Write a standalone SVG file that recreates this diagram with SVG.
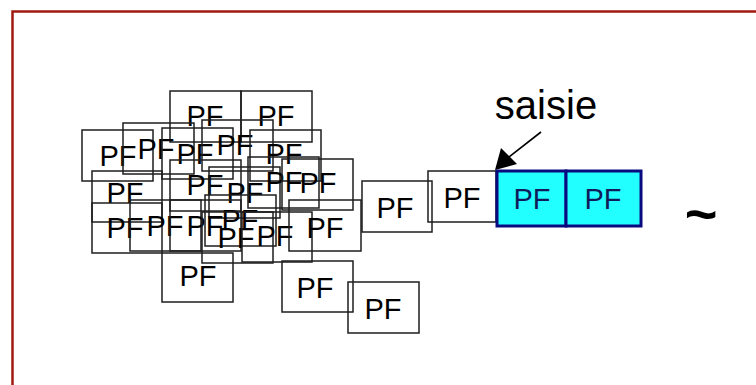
<svg xmlns="http://www.w3.org/2000/svg" width="756" height="385" viewBox="0 0 756 385">
<style>
.b{fill:none;stroke:#1e1e1e;stroke-width:1.5}
.t{font-family:"Liberation Sans",Arial,sans-serif;font-size:29px;fill:#000;text-anchor:middle}
.c{fill:#22ffff;stroke:#0a0a80;stroke-width:3}
.ct{font-family:"Liberation Sans",Arial,sans-serif;font-size:29px;fill:#101c5a;text-anchor:middle}
</style>
<rect width="756" height="385" fill="#fff"/>
<rect x="12.5" y="11.5" width="760" height="400" fill="none" stroke="#a01a10" stroke-width="2.5"/>
<g id="n1"><rect class="b" x="170" y="91" width="71" height="51"/><text class="t" x="205" y="126">PF</text></g>
<g id="n2"><rect class="b" x="241" y="91" width="71" height="51"/><text class="t" x="276" y="126">PF</text></g>
<g id="n3"><rect class="b" x="82" y="130" width="71" height="51"/><text class="t" x="118" y="166">PF</text></g>
<g id="n4"><rect class="b" x="123" y="123" width="71" height="51"/><text class="t" x="156" y="159">PF</text></g>
<g id="n5"><rect class="b" x="162" y="128" width="71" height="51"/><text class="t" x="195" y="164">PF</text></g>
<g id="n6"><rect class="b" x="202" y="120" width="71" height="51"/><text class="t" x="235" y="155">PF</text></g>
<g id="n7"><rect class="b" x="250" y="130" width="71" height="51"/><text class="t" x="284" y="164">PF</text></g>
<g id="n8"><rect class="b" x="92" y="171" width="70" height="51"/><text class="t" x="125" y="203">PF</text></g>
<g id="n9"><rect class="b" x="170" y="160" width="71" height="51"/><text class="t" x="205" y="195">PF</text></g>
<g id="n10"><rect class="b" x="209" y="167" width="71" height="51"/><text class="t" x="245" y="203">PF</text></g>
<g id="n11"><rect class="b" x="248" y="157" width="71" height="51"/><text class="t" x="284" y="192">PF</text></g>
<g id="n12"><rect class="b" x="282" y="159" width="71" height="51"/><text class="t" x="318" y="193">PF</text></g>
<g id="n13"><rect class="b" x="92" y="203" width="70" height="50"/><text class="t" x="125" y="238">PF</text></g>
<g id="n14"><rect class="b" x="130" y="200" width="71" height="51"/><text class="t" x="165" y="236">PF</text></g>
<g id="n15"><rect class="b" x="170" y="200" width="71" height="51"/><text class="t" x="205" y="236">PF</text></g>
<g id="n16"><rect class="b" x="205" y="195" width="71" height="51"/><text class="t" x="240" y="230">PF</text></g>
<g id="n17"><rect class="b" x="202" y="212" width="71" height="51"/><text class="t" x="236" y="248">PF</text></g>
<g id="n18"><rect class="b" x="242" y="212" width="70" height="50"/><text class="t" x="275" y="246">PF</text></g>
<g id="n19"><rect class="b" x="289" y="200" width="72" height="51"/><text class="t" x="325" y="238">PF</text></g>
<g id="n20"><rect class="b" x="162" y="253" width="71" height="49"/><text class="t" x="198" y="286">PF</text></g>
<g id="n21"><rect class="b" x="282" y="261" width="71" height="51"/><text class="t" x="315" y="298">PF</text></g>
<g id="n22"><rect class="b" x="348" y="282" width="71" height="51"/><text class="t" x="383" y="319">PF</text></g>
<g id="n23"><rect class="b" x="362" y="181" width="70" height="51"/><text class="t" x="395" y="218">PF</text></g>
<g id="n24"><rect class="b" x="428" y="171" width="68" height="51"/><text class="t" x="462" y="208">PF</text></g>
<g id="n25"><rect class="c" x="497" y="171" width="69" height="55"/><text class="ct" x="532" y="209">PF</text></g>
<g id="n26"><rect class="c" x="566" y="171" width="75" height="55"/><text class="ct" x="603" y="209">PF</text></g>
<g id="saisie"><text x="546" y="119" font-family="Liberation Sans, Arial, sans-serif" font-size="40" text-anchor="middle" fill="#000">saisie</text></g>
<g id="tilde"><text x="701" y="233" font-family="Liberation Sans, Arial, sans-serif" font-size="56" font-weight="bold" text-anchor="middle" fill="#000">~</text></g>
<g id="connectors">
<line x1="541" y1="132" x2="505" y2="160" stroke="#000" stroke-width="1.6"/>
<path d="M495,170 L501,148 L517,164 z" fill="#000"/>
</g>
</svg>
